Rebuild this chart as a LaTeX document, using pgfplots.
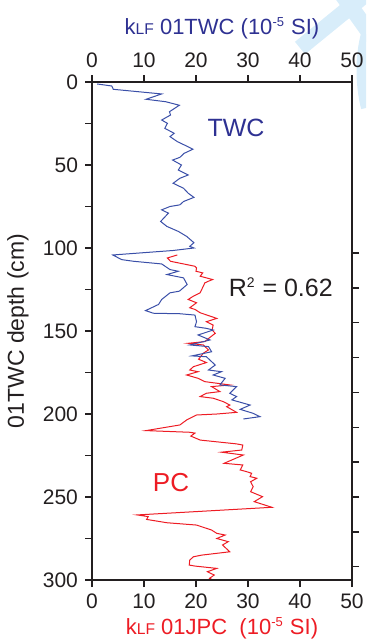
\documentclass[border=0pt]{standalone}
\usepackage{fontspec}
\setmainfont{Liberation Sans}
\usepackage{pgfplots}
\usepackage{pgfplotstable}
\pgfplotsset{compat=1.18}
\definecolor{twcblue}{HTML}{2E3192}
\definecolor{twcline}{HTML}{3A4FA8}
\definecolor{pcred}{HTML}{ED1C24}
\definecolor{txt}{HTML}{231F20}
\definecolor{wm}{HTML}{D8EDFA}

\pgfplotstableread{
v d
1.0 1.2
3.8 2.4
4.1 4.4
13.4 7.2
10.4 10.4
14.2 11.9
16.8 14
14.9 17.9
15.1 19.9
13.4 22.9
14.5 24.9
14.0 27.9
15.8 30.9
15.0 32.9
16.4 35.9
18.2 38.6
19.4 40.5
17.7 43
16.9 45.4
15.5 47
17.2 50
16.6 53
18.5 56
16.9 58
15.6 61
17.6 64
18.5 67
19.6 69.5
17.6 72
16.9 74
15.0 75
13.4 77
14.7 79
13.2 84
14.4 87
16.6 90
18.2 93
19.6 96.8
18.8 99
19.6 100
15.6 101.5
4.0 104.2
5.7 107
8.0 108
13.4 109.6
15.0 113
16.6 114
14.4 116
16.0 117
17.6 118
18.3 122
16.8 126
15.0 127
13.4 131
12.8 134
10.3 137.7
11.8 139.3
16.9 139.6
19.8 140.4
20.1 144.4
19.8 147.4
22.0 148.4
23.3 149.4
20.4 152.4
22.7 155.4
18.8 158.4
22.4 159.4
23.0 162.5
19.2 165
22.0 165.5
23.7 170.5
22.4 173.5
24.9 174.5
23.3 176.5
25.6 178.5
24.6 182.5
27.8 183.5
26.5 187.5
27.8 189.5
26.9 191.5
30.4 194.6
28.5 197.2
31.0 199.6
32.3 201.6
29.1 203
}\twcdata

\pgfplotstableread{
v d
16.4 104.2
14.5 106
15.1 108
19.8 111
20.1 112
20.0 114
21.3 115
20.8 117
23.2 119
22.4 120
21.7 121
21.4 123
20.8 127
19.5 129
18.5 131
20.1 133
18.8 136
19.8 137
20.8 139
24.0 142.4
22.0 144.4
23.3 146.4
23.1 149.4
23.7 151.4
22.7 153.8
21.7 156.4
18.5 157.4
21.4 158.4
22.4 161.4
21.4 163.4
20.5 167
22.0 169
19.5 171.5
18.8 173.5
20.4 174.5
18.2 176.5
20.4 178.5
21.7 180.5
26.5 182.5
23.0 183.5
24.6 186.5
22.0 187.5
20.8 189.5
23.3 190.5
25.3 192.6
26.5 194.6
25.9 195.6
27.8 199
24.0 200
20.1 200.6
18.2 203.6
16.9 206.6
10.4 210
18.8 211
19.8 211.5
19.0 213.3
20.8 215.7
27.8 218
29.0 218.7
28.8 221.7
24.9 223
29.1 224.7
25.4 229.7
29.0 230.7
28.5 233.7
29.7 234.7
30.7 235.7
30.4 237.7
31.7 238.7
30.5 240.8
31.0 243.8
30.5 246.8
32.8 249.8
31.2 252.8
34.6 256.2
8.7 260.8
10.8 261.8
10.5 263.5
14.4 265.5
20.1 266.9
23.0 269.9
24.0 271.9
25.6 272.9
24.0 275
26.2 276.9
25.1 278.9
26.5 283
21.1 285
19.5 286
18.8 288
18.7 291
19.8 291.6
24.0 293
22.2 295
23.5 297
22.6 299
23.3 300
}\pcdata

\begin{document}
\begin{tikzpicture}
\useasboundingbox (-46pt,-30.5pt) rectangle (137pt,290pt);
\begin{scope}
\clip (-46pt,-30.5pt) rectangle (137pt,290pt);
\draw[wm, line width=8pt] (104pt,266pt) -- (142pt,297pt);
\draw[wm, line width=8pt] (122pt,297pt) -- (142pt,269pt);
\draw[wm, line width=5pt] (137pt,273pt) .. controls (134pt,262pt) and (134pt,248pt) .. (137pt,236pt);
\end{scope}

\pgfplotsset{
  common/.style={
    at={(0,0)}, anchor=south west, scale only axis,
    width=130pt, height=249pt,
    xmin=0, xmax=50, ymin=0, ymax=300, y dir=reverse,
    tick align=outside,
    major tick length=3.5pt, minor tick length=3.5pt,
    axis line style={line width=0.7pt, txt},
    every tick/.style={line width=0.7pt, txt},
    tick label style={font=\fontsize{10.5}{12}\selectfont, text=txt},
    /pgf/number format/assume math mode=true,
    xtick={0,10,...,50},
    clip=false,
  }
}

\begin{axis}[common,
  xtick pos=lower, xticklabel pos=lower,
  ytick pos=left, yticklabel pos=left,
  ytick={0,50,...,300},
  minor ytick={25,75,...,275},
  xlabel={\color{pcred}k{\fontsize{7.8}{9}\selectfont LF} 01JPC\ \ (10\textsuperscript{\fontsize{6.5}{7}\selectfont -5} SI)},
  ylabel={01TWC depth (cm)},
  label style={font=\fontsize{11.5}{14}\selectfont, text=txt},
  x label style={at={(axis description cs:0.5,0)}, anchor=center, yshift=-24pt, font=\fontsize{11}{14}\selectfont},
  y label style={at={(axis description cs:-0.285,0.5)}, anchor=center},
]
\addplot[pcred, line width=0.5pt] table[x=v, y=d] {\pcdata};
\node[text=pcred, font=\fontsize{13}{15}\selectfont] at (axis cs:15.2,241) {PC};
\node[text=txt, font=\fontsize{12.5}{14}\selectfont] at (axis cs:36.3,123.5) {R\textsuperscript{\fontsize{7}{8}\selectfont 2} = 0.62};
\end{axis}

\begin{axis}[common,
  xtick pos=upper, xticklabel pos=upper,
  ytick pos=right, yticklabel pos=right,
  ytick={103,124,145,166,187,208,229,250,271,292},
  yticklabels={},
  xlabel={\color{twcblue}k{\fontsize{7.8}{9}\selectfont LF} 01TWC (10\textsuperscript{\fontsize{6.5}{7}\selectfont -5} SI)},
  label style={font=\fontsize{11}{14}\selectfont},
  x label style={at={(axis description cs:0.5,1)}, anchor=center, yshift=27pt},
]
\addplot[twcline, line width=0.5pt] table[x=v, y=d] {\twcdata};
\node[text=twcblue, font=\fontsize{12.5}{14}\selectfont] at (axis cs:27.7,27.7) {TWC};
\end{axis}
\end{tikzpicture}
\end{document}
